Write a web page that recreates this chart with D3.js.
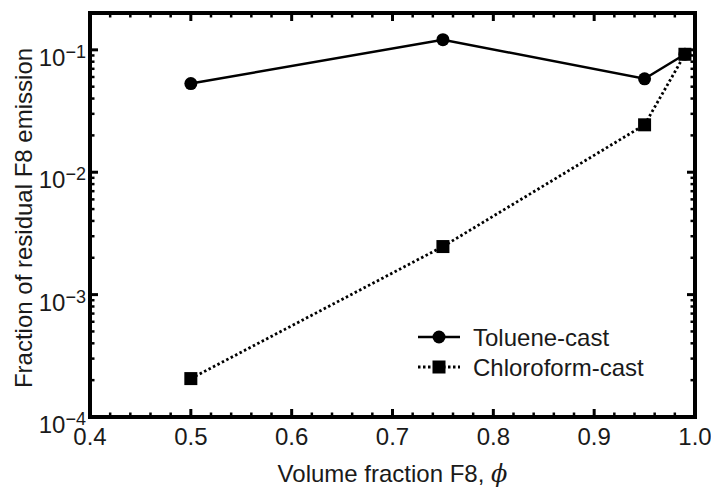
<!DOCTYPE html>
<html>
<head>
<meta charset="utf-8">
<script src="https://cdn.jsdelivr.net/npm/d3@7"></script>
<style>
  html, body { margin: 0; padding: 0; background: #fff; }
  svg { display: block; font-family: "Liberation Sans", Arial, sans-serif; }
</style>
</head>
<body>
<svg id="chart" width="711" height="487"></svg>
<script>
// ---- data ----
const phi = [0.5, 0.75, 0.95, 0.99];
const toluene = [0.053, 0.121, 0.058, 0.092];
const chloroform = [2.06e-4, 2.47e-3, 0.0244, 0.092];
const seriesNames = ["Toluene-cast", "Chloroform-cast"];
const xTicks = [0.4, 0.5, 0.6, 0.7, 0.8, 0.9, 1.0];
const yExponents = [-4, -3, -2, -1];

// ---- layout ----
const L = 90, R = 695, T = 13, B = 417;
const svg = d3.select("#chart");
const x = d3.scaleLinear().domain([0.4, 1.0]).range([L, R]);
const y = d3.scaleLog().domain([1e-4, 0.2]).range([B, T]);

const g = svg.append("g");

// minor & major ticks
const xMinor = d3.range(0.4, 1.0001, 0.02).filter(v => Math.abs(v * 10 - Math.round(v * 10)) > 1e-6);
const yMinor = [];
for (let e = -4; e <= -1; e++) for (let k = 2; k <= 9; k++) { const v = k * Math.pow(10, e); if (v <= 0.2) yMinor.push(v); }

const tk = g.append("g").attr("stroke", "#000");
xTicks.forEach(v => {
  tk.append("line").attr("x1", x(v)).attr("x2", x(v)).attr("y1", B).attr("y2", B - 8).attr("stroke-width", 3);
  tk.append("line").attr("x1", x(v)).attr("x2", x(v)).attr("y1", T).attr("y2", T + 8).attr("stroke-width", 3);
});
xMinor.forEach(v => {
  tk.append("line").attr("x1", x(v)).attr("x2", x(v)).attr("y1", B).attr("y2", B - 4.5).attr("stroke-width", 2.5);
  tk.append("line").attr("x1", x(v)).attr("x2", x(v)).attr("y1", T).attr("y2", T + 4.5).attr("stroke-width", 2.5);
});
yExponents.forEach(e => {
  const v = Math.pow(10, e);
  tk.append("line").attr("x1", L).attr("x2", L + 8).attr("y1", y(v)).attr("y2", y(v)).attr("stroke-width", 3);
  tk.append("line").attr("x1", R).attr("x2", R - 8).attr("y1", y(v)).attr("y2", y(v)).attr("stroke-width", 3);
});
yMinor.forEach(v => {
  tk.append("line").attr("x1", L).attr("x2", L + 4.5).attr("y1", y(v)).attr("y2", y(v)).attr("stroke-width", 2.5);
  tk.append("line").attr("x1", R).attr("x2", R - 4.5).attr("y1", y(v)).attr("y2", y(v)).attr("stroke-width", 2.5);
});

// frame
g.append("rect").attr("x", L).attr("y", T).attr("width", R - L).attr("height", B - T)
  .attr("fill", "none").attr("stroke", "#000").attr("stroke-width", 4);

// x tick labels
g.selectAll(".xl").data(xTicks).enter().append("text")
  .attr("x", d => x(d)).attr("y", B + 28).attr("text-anchor", "middle")
  .attr("font-size", 24).attr("fill", "#1a1a1a").text(d => d.toFixed(1));

// y tick labels
yExponents.forEach(e => {
  const t = g.append("text").attr("x", L - 4).attr("y", y(Math.pow(10, e)) + 16)
    .attr("text-anchor", "end").attr("font-size", 24).attr("fill", "#1a1a1a");
  t.append("tspan").text("10");
  t.append("tspan").attr("font-size", 18).attr("dy", -8).text("\u2212" + Math.abs(e));
});

// axis titles
const xt = g.append("text").attr("x", (L + R) / 2).attr("y", 482).attr("text-anchor", "middle")
  .attr("font-size", 24).attr("fill", "#1a1a1a");
xt.append("tspan").text("Volume fraction F8, ");
xt.append("tspan").attr("font-style", "italic").attr("font-family", "'DejaVu Serif', serif").text("\u03d5");

g.append("text").attr("transform", `translate(32,${(T + B) / 2 + 3}) rotate(-90)`)
  .attr("text-anchor", "middle").attr("font-size", 24).attr("fill", "#1a1a1a")
  .text("Fraction of residual F8 emission");

// data
const tolData = phi.map((p, i) => [p, toluene[i]]);
const chlData = phi.map((p, i) => [p, chloroform[i]]);
const line = d3.line().x(d => x(d[0])).y(d => y(d[1]));

g.append("path").datum(tolData).attr("d", line).attr("fill", "none")
  .attr("stroke", "#000").attr("stroke-width", 2.5);
g.selectAll(".tc").data(tolData).enter().append("circle")
  .attr("cx", d => x(d[0])).attr("cy", d => y(d[1])).attr("r", 6.5).attr("fill", "#000");

g.append("path").datum(chlData).attr("d", line).attr("fill", "none")
  .attr("stroke", "#000").attr("stroke-width", 2.8).attr("stroke-dasharray", "2.5,2.5");
const sq = 13;
g.selectAll(".cs").data(chlData).enter().append("rect")
  .attr("x", d => x(d[0]) - sq / 2).attr("y", d => y(d[1]) - sq / 2)
  .attr("width", sq).attr("height", sq).attr("fill", "#000");

// legend
const lg = g.append("g");
const rows = [337, 367];
lg.append("line").attr("x1", 418).attr("x2", 460).attr("y1", rows[0]).attr("y2", rows[0])
  .attr("stroke", "#000").attr("stroke-width", 2.5);
lg.append("circle").attr("cx", 439).attr("cy", rows[0]).attr("r", 6.5).attr("fill", "#000");
lg.append("line").attr("x1", 418).attr("x2", 460).attr("y1", rows[1]).attr("y2", rows[1])
  .attr("stroke", "#000").attr("stroke-width", 2.8).attr("stroke-dasharray", "2.5,2.5");
lg.append("rect").attr("x", 439 - sq / 2).attr("y", rows[1] - sq / 2).attr("width", sq).attr("height", sq).attr("fill", "#000");
seriesNames.forEach((n, i) => {
  lg.append("text").attr("x", 473).attr("y", rows[i] + 9).attr("font-size", 24)
    .attr("fill", "#1a1a1a").text(n);
});
</script>
</body>
</html>
